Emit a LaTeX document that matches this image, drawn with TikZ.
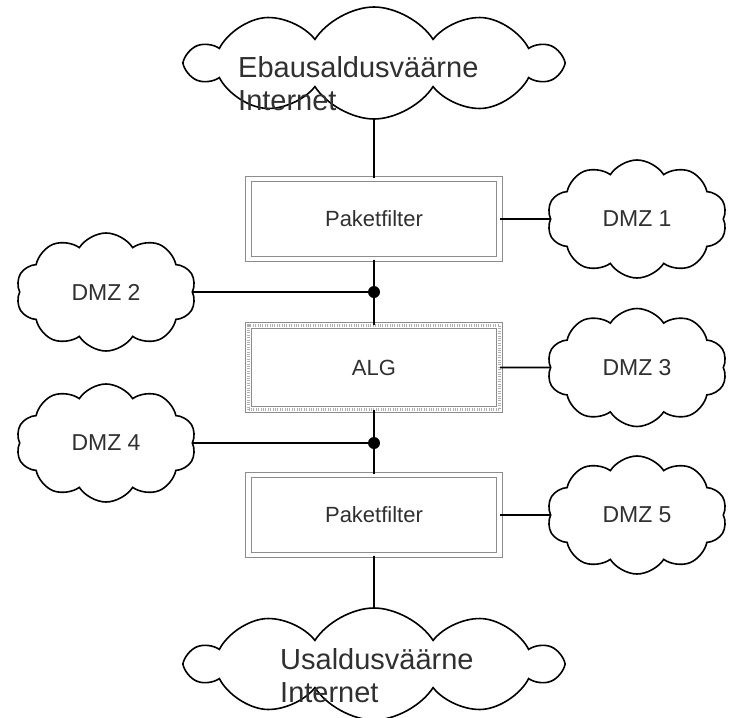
\documentclass[tikz,border=0pt]{standalone}
\usepackage{fontspec}
\setmainfont{Liberation Sans}
\usepackage{tikz}
\usetikzlibrary{shapes.symbols,positioning}
\definecolor{boxgray}{HTML}{8C8C8C}
\definecolor{inkgray}{HTML}{303030}
\tikzset{
  % Clouds (networks)
  netz/.style={cloud,cloud puffs=10,cloud puff arc=115,cloud ignores aspect,
               shape border rotate=18,
               draw=black,line width=1.6pt,fill=white,
               minimum width=372pt,minimum height=112pt,inner sep=0pt},
  netztxt/.style={align=left,inner sep=0pt,text=inkgray,
                  font=\fontsize{29}{33}\selectfont},
  dmz/.style={cloud,cloud puffs=10,cloud puff arc=115,cloud ignores aspect,
              shape border rotate=18,
              draw=black,line width=1.6pt,fill=white,
              minimum width=180pt,minimum height=118pt,inner sep=0pt,
              text=inkgray,font=\fontsize{23}{27}\selectfont},
  % Filter boxes
  filterbox/.style={draw=boxgray,line width=1.1pt,double,double distance=4.5pt,
                    minimum width=251pt,minimum height=80pt,
                    text=inkgray,font=\fontsize{22}{26}\selectfont},
  algbox/.style={filterbox,minimum height=84pt,
                 postaction={draw=boxgray!70,line width=2.4pt,
                             dash pattern=on 1pt off 1.4pt}},
  % Connectors
  dot/.style={circle,fill=black,minimum size=12pt,inner sep=0pt},
  link/.style={black,line width=1.6pt}
}
\begin{document}
\begin{tikzpicture}[x=1pt,y=-1pt]
  \useasboundingbox (0,0) rectangle (729,718);

  % Untrusted and trusted networks
  \node[netz] (unsafe) at (374,63) {};
  \node[netztxt,anchor=north west] (unsafetxt) at (238,56) {Ebausaldusväärne\\Internet};
  \node[netz] (safe) at (374,664) {};
  \node[netztxt,anchor=north west] (safetxt) at (280,648) {Usaldusväärne\\Internet};

  % Filter chain
  \node[filterbox] (pf1) at (374,219)   {Paketfilter};
  \node[algbox]    (alg) at (374,367.5) {ALG};
  \node[filterbox] (pf2) at (374,515)   {Paketfilter};

  \node[dot] (j1) at (374,292) {};
  \node[dot] (j2) at (374,443) {};

  % DMZ clouds
  \node[dmz] (dmz1) at (637,219) {DMZ 1};
  \node[dmz] (dmz2) at (106,292) {DMZ 2};
  \node[dmz] (dmz3) at (637,367.5) {DMZ 3};
  \node[dmz] (dmz4) at (106,443) {DMZ 4};
  \node[dmz] (dmz5) at (637,515) {DMZ 5};

  % Backbone
  \draw[link] (unsafe) -- (pf1);
  \draw[link] (pf1) -- (j1);
  \draw[link] (j1) -- (alg);
  \draw[link] (alg) -- (j2);
  \draw[link] (j2) -- (pf2);
  \draw[link] (pf2) -- (safe);

  % DMZ links
  \draw[link] (pf1) -- (dmz1);
  \draw[link] (dmz2) -- (j1);
  \draw[link] (alg) -- (dmz3);
  \draw[link] (dmz4) -- (j2);
  \draw[link] (pf2) -- (dmz5);
\end{tikzpicture}
\end{document}
